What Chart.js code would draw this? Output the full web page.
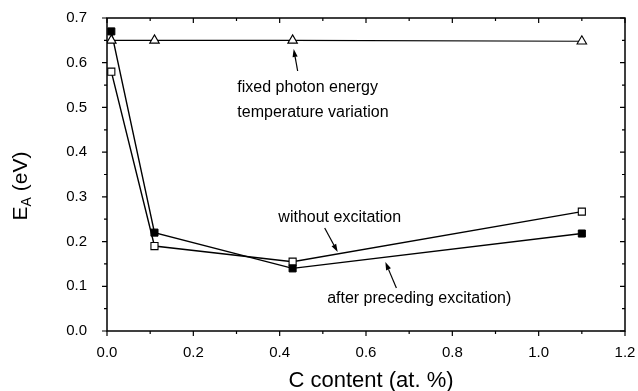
<!DOCTYPE html>
<html>
<head>
<meta charset="utf-8">
<script src="https://cdn.jsdelivr.net/npm/chart.js@4.4.1/dist/chart.umd.min.js"></script>
<style>
  html, body { margin: 0; padding: 0; background: #fff; }
  #chartDiv { width: 638px; height: 391px; }
</style>
</head>
<body>
<div id="chartDiv"><canvas id="eaChart" width="638" height="391"></canvas></div>
<script>
// C content (at. %)
var cContent = [0.01, 0.11, 0.43, 1.10];

// activation energies E_A (eV)
var eaFixedPhoton        = [0.65, 0.65, 0.65, 0.648];
var eaAfterExcitation    = [0.67, 0.22, 0.14, 0.218];
var eaWithoutExcitation  = [0.58, 0.19, 0.155, 0.267];

var xTickValues = [0.0, 0.2, 0.4, 0.6, 0.8, 1.0, 1.2];
var yTickValues = [0.0, 0.1, 0.2, 0.3, 0.4, 0.5, 0.6, 0.7];

var fontFamily = 'Arial, "Liberation Sans", Helvetica, sans-serif';

// notes + arrows, in data units
var notes = [
    { text: 'fixed photon energy',          x: 0.302, y: 0.5435 },
    { text: 'temperature variation',        x: 0.302, y: 0.4876 },
    { text: 'without excitation',           x: 0.397, y: 0.2527 },
    { text: 'after preceding excitation)',  x: 0.510, y: 0.0716 }
];
var arrows = [
    { x1: 0.4417, y1: 0.5815, x2: 0.4325, y2: 0.6307 },
    { x1: 0.5043, y1: 0.2304, x2: 0.5344, y2: 0.1767 },
    { x1: 0.6704, y1: 0.0962, x2: 0.6449, y2: 0.1543 }
];

function toPoints(xs, ys){
    var pts = [];
    for (var i = 0; i < xs.length; i++){
        pts.push({ x: xs[i], y: ys[i] });
    }
    return pts;
}

//---------- FRAME, MINOR TICKS, TOP / RIGHT TICKS
var framePlugin = {
    id: 'frame',
    afterDraw: function(chart){
        var ctx = chart.ctx;
        var xs = chart.scales.x, ys = chart.scales.y;
        var a = chart.chartArea;
        ctx.save();
        ctx.strokeStyle = '#000';
        ctx.lineWidth = 1.5;
        ctx.strokeRect(a.left, a.top, a.right - a.left, a.bottom - a.top);

        ctx.lineWidth = 1.2;
        ctx.beginPath();
        // x ticks, every 0.1 (major every 0.2)
        for (var i = 0; i <= 12; i++){
            var px = xs.getPixelForValue(i / 10);
            var len = (i % 2 == 0) ? 5 : 3;
            ctx.moveTo(px, a.bottom); ctx.lineTo(px, a.bottom + len);
            ctx.moveTo(px, a.top);    ctx.lineTo(px, a.top + len);
        }
        // y ticks, every 0.05 (major every 0.1)
        for (var j = 0; j <= 14; j++){
            var py = ys.getPixelForValue(j / 20);
            var len2 = (j % 2 == 0) ? 5 : 3;
            ctx.moveTo(a.left, py);  ctx.lineTo(a.left - len2, py);
            ctx.moveTo(a.right, py); ctx.lineTo(a.right - len2, py);
        }
        ctx.stroke();
        ctx.restore();
    }
};

//---------- AXIS TITLES, NOTES AND ARROWS
var textPlugin = {
    id: 'texts',
    afterDraw: function(chart){
        var ctx = chart.ctx;
        var xs = chart.scales.x, ys = chart.scales.y;
        var a = chart.chartArea;
        ctx.save();
        ctx.fillStyle = '#000';
        ctx.strokeStyle = '#000';

        // x title
        ctx.font = '22px ' + fontFamily;
        ctx.textAlign = 'center';
        ctx.textBaseline = 'middle';
        ctx.fillText('C content (at. %)', (a.left + a.right) / 2 + 5, 381);

        // y title with subscript
        ctx.save();
        ctx.translate(21, 186);
        ctx.rotate(-Math.PI / 2);
        ctx.textAlign = 'left';
        ctx.textBaseline = 'middle';
        var big = '21px ' + fontFamily, small = '14px ' + fontFamily;
        ctx.font = big;   var wE = ctx.measureText('E').width;
        ctx.font = small; var wA = ctx.measureText('A').width;
        ctx.font = big;   var wR = ctx.measureText(' (eV)').width;
        var x0 = -(wE + wA + wR) / 2;
        ctx.fillText('E', x0, 0);
        ctx.font = small;
        ctx.fillText('A', x0 + wE, 6);
        ctx.font = big;
        ctx.fillText(' (eV)', x0 + wE + wA, 0);
        ctx.restore();

        // notes
        ctx.font = '16px ' + fontFamily;
        ctx.textAlign = 'left';
        ctx.textBaseline = 'middle';
        notes.forEach(function(n){
            ctx.fillText(n.text, xs.getPixelForValue(n.x), ys.getPixelForValue(n.y));
        });

        // arrows, head at (x2, y2)
        ctx.lineWidth = 1.2;
        arrows.forEach(function(ar){
            var x1 = xs.getPixelForValue(ar.x1), y1 = ys.getPixelForValue(ar.y1);
            var x2 = xs.getPixelForValue(ar.x2), y2 = ys.getPixelForValue(ar.y2);
            var ang = Math.atan2(y2 - y1, x2 - x1);
            var hl = 8, hw = 2.6;
            var bx = x2 - hl * Math.cos(ang), by = y2 - hl * Math.sin(ang);
            ctx.beginPath();
            ctx.moveTo(x1, y1); ctx.lineTo(bx, by);
            ctx.stroke();
            ctx.beginPath();
            ctx.moveTo(x2, y2);
            ctx.lineTo(bx + hw * Math.sin(ang), by - hw * Math.cos(ang));
            ctx.lineTo(bx - hw * Math.sin(ang), by + hw * Math.cos(ang));
            ctx.closePath();
            ctx.fill();
        });
        ctx.restore();
    }
};

function initializeEaChart(){
    var ctx = document.getElementById('eaChart').getContext('2d');
    var myChart = new Chart(ctx, {
        type: 'scatter',
        data: {
            datasets: [{
                label: 'fixed photon energy',
                data: toPoints(cContent, eaFixedPhoton),
                showLine: true,
                borderColor: '#000',
                borderWidth: 1.2,
                pointStyle: 'triangle',
                pointRadius: 5.5,
                pointBackgroundColor: '#fff',
                pointBorderColor: '#000',
                pointBorderWidth: 1.1
            },
            {
                label: 'after preceding excitation',
                data: toPoints(cContent, eaAfterExcitation),
                showLine: true,
                borderColor: '#000',
                borderWidth: 1.4,
                pointStyle: 'rect',
                pointRadius: 5,
                pointBackgroundColor: '#000',
                pointBorderColor: '#000',
                pointBorderWidth: 1
            },
            {
                label: 'without excitation',
                data: toPoints(cContent, eaWithoutExcitation),
                showLine: true,
                borderColor: '#000',
                borderWidth: 1.4,
                pointStyle: 'rect',
                pointRadius: 5,
                pointBackgroundColor: '#fff',
                pointBorderColor: '#000',
                pointBorderWidth: 1.1
            }]
        },
        options: {
            responsive: false,
            animation: false,
            events: [],
            layout: { padding: { left: 0, top: 18, right: 13, bottom: 0 } },
            plugins: {
                legend: { display: false },
                tooltip: { enabled: false }
            },
            scales: {
                x: {
                    type: 'linear',
                    min: 0,
                    max: 1.2,
                    afterFit: function(scale){
                        scale.height = 60;
                        // keep the plot box fixed, labels may overhang
                        scale.paddingLeft = 0;
                        scale.paddingRight = 0;
                    },
                    afterBuildTicks: function(scale){
                        scale.ticks = xTickValues.map(function(v){ return { value: v }; });
                    },
                    grid: { display: false },
                    border: { display: false },
                    ticks: {
                        color: '#000',
                        padding: 5,
                        maxRotation: 0,
                        font: { size: 15, family: fontFamily },
                        callback: function(v){ return Number(v).toFixed(1); }
                    }
                },
                y: {
                    type: 'linear',
                    min: 0,
                    max: 0.7,
                    afterFit: function(scale){
                        scale.width = 107;
                        scale.paddingTop = 0;
                        scale.paddingBottom = 0;
                    },
                    afterBuildTicks: function(scale){
                        scale.ticks = yTickValues.map(function(v){ return { value: v }; });
                    },
                    grid: { display: false },
                    border: { display: false },
                    ticks: {
                        color: '#000',
                        padding: 12,
                        font: { size: 15, family: fontFamily },
                        callback: function(v){ return Number(v).toFixed(1); }
                    }
                }
            }
        },
        plugins: [framePlugin, textPlugin]
    });
    myChart.update();
}

initializeEaChart();
</script>
</body>
</html>
